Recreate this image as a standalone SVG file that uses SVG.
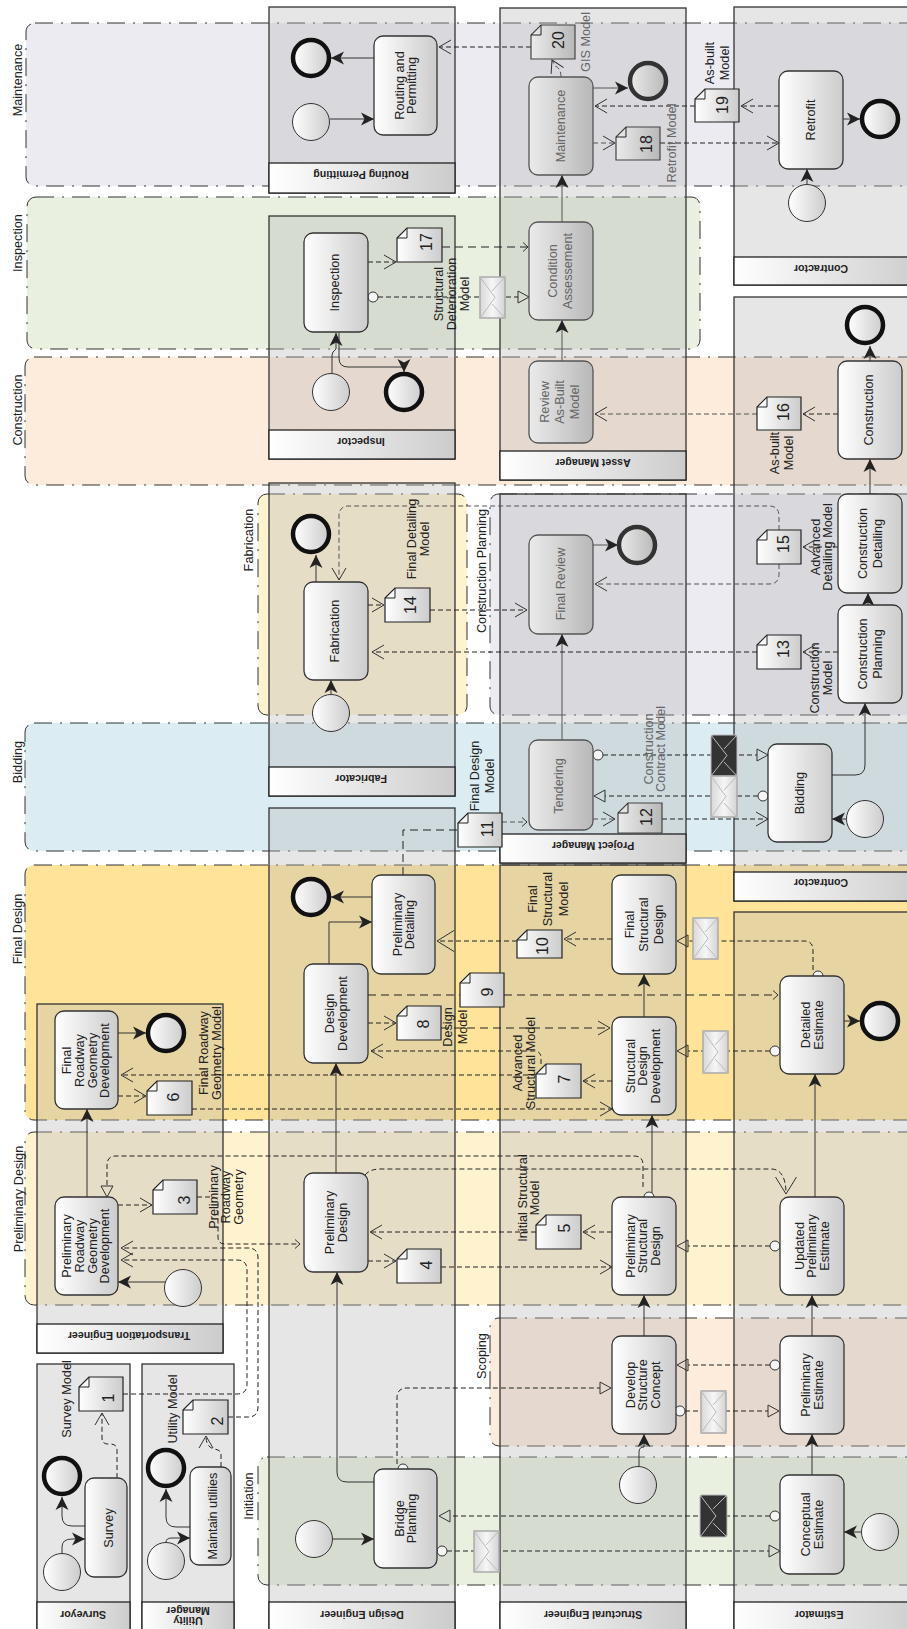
<svg xmlns="http://www.w3.org/2000/svg" width="907" height="1629" viewBox="0 0 907 1629">
<style>
text{font-family:"Liberation Sans",Arial,sans-serif;fill:#222}
.t{font-size:12.7px;text-anchor:middle}
.dt{fill:#666}
.n{font-size:16px;text-anchor:middle}
.h{font-size:10.6px;font-weight:bold;text-anchor:middle}
.band{stroke:#333;stroke-width:1;stroke-dasharray:18 8 2 8}
.pool{fill:#b8b8b8;fill-opacity:.35;stroke:#333;stroke-width:1.3}
.head{fill:url(#g);stroke:#222;stroke-width:1.3}
.task{fill:url(#g);stroke:#333;stroke-width:1.3}
.dtask{fill:url(#gd);stroke:#555;stroke-width:1.3}
.ev{fill:url(#g);stroke:#333;stroke-width:1}
.end{fill:url(#g);stroke:#111;stroke-width:4.5}
.dend{fill:url(#gd);stroke:#333;stroke-width:4.5}
.doc{fill:url(#g);stroke:#222;stroke-width:1.2}
.ddoc{fill:url(#gd);stroke:#444;stroke-width:1.2}
.fold{fill:none;stroke:#222;stroke-width:1}
.env{fill:url(#ge);stroke:#aaa;stroke-width:1.5}
.envd{fill:#333;stroke:#bbb;stroke-width:1}
.el{fill:none;stroke:#bbb;stroke-width:1}
.s,.d,.d2{fill:none;stroke:#222;stroke-width:1}
.s{marker-end:url(#b);stroke:#333}
.d{stroke-dasharray:5 3}
.d2{stroke-dasharray:8 5}
.dm{stroke:#555}
.o{marker-end:url(#o)}
.ob{marker-end:url(#ob)}
.os{marker-end:url(#os)}
.tr{marker-end:url(#tr)}
.c{marker-start:url(#c)}
.oc{fill:#f4f4f4;stroke:#333;stroke-width:1}
</style>
<defs>
<linearGradient id="g"><stop offset="0" stop-color="#fff"/><stop offset="1" stop-color="#ccc"/></linearGradient>
<linearGradient id="gd"><stop offset="0" stop-color="#ebebeb"/><stop offset="1" stop-color="#b8b8b8"/></linearGradient>
<linearGradient id="ge"><stop offset="0" stop-color="#d8d8d8"/><stop offset=".5" stop-color="#f6f6f6"/><stop offset="1" stop-color="#d4d4d4"/></linearGradient>
<marker id="b" markerUnits="userSpaceOnUse" markerWidth="16" markerHeight="16" viewBox="-1 -8 16 16" refX="13" refY="0" orient="auto"><path d="M0 -6.5L13 0L0 6.5L3.5 0z" fill="#222"/></marker>
<marker id="o" markerUnits="userSpaceOnUse" markerWidth="16" markerHeight="18" viewBox="-1 -9 16 18" refX="12" refY="0" orient="auto"><path d="M0 -7L12 0L0 7" fill="none" stroke="#333"/></marker>
<marker id="ob" markerUnits="userSpaceOnUse" markerWidth="20" markerHeight="24" viewBox="-1 -12 20 24" refX="17" refY="0" orient="auto"><path d="M0 -10.5L17 0L0 10.5" fill="none" stroke="#333"/></marker>
<marker id="os" markerUnits="userSpaceOnUse" markerWidth="8" markerHeight="12" viewBox="-1 -6 8 12" refX="5" refY="0" orient="auto"><path d="M0 -4.5L5 0L0 4.5" fill="none" stroke="#333"/></marker>
<marker id="tr" markerUnits="userSpaceOnUse" markerWidth="14" markerHeight="16" viewBox="-1 -8 14 16" refX="0" refY="0" orient="auto"><path d="M0 -6L11 0L0 6z" fill="none" stroke="#333"/></marker>
<marker id="c" markerUnits="userSpaceOnUse" markerWidth="12" markerHeight="12" viewBox="-6 -6 12 12" refX="5" refY="0" orient="auto"><circle r="5" fill="#f4f4f4" stroke="#333"/></marker>
</defs>
<rect width="907" height="1629" fill="#fff"/>

<g id="phases">
<g id="phase-maintenance"><rect class="band" x="26" y="23" width="900" height="163" rx="9" fill="#ecebf2"/><text class="t" transform="translate(18 80) rotate(-90)" y="4.4">Maintenance</text></g>
<g id="phase-inspection"><rect class="band" x="27" y="197" width="673" height="152" rx="9" fill="#e9f0df"/><text class="t" transform="translate(18 243) rotate(-90)" y="4.4">Inspection</text></g>
<g id="phase-construction"><rect class="band" x="25" y="357" width="900" height="128" rx="9" fill="#fdebdc"/><text class="t" transform="translate(18 410) rotate(-90)" y="4.4">Construction</text></g>
<g id="phase-fabrication"><rect class="band" x="258" y="494" width="209" height="221" rx="9" fill="#fff2cf"/><text class="t" transform="translate(249 540) rotate(-90)" y="4.4">Fabrication</text></g>
<g id="phase-planning"><rect class="band" x="490" y="494" width="440" height="221" rx="9" fill="#ecebf2"/><text class="t" transform="translate(482 571) rotate(-90)" y="4.4">Construction Planning</text></g>
<g id="phase-bidding"><rect class="band" x="25" y="723" width="900" height="128" rx="9" fill="#dbedf3"/><text class="t" transform="translate(18 762) rotate(-90)" y="4.4">Bidding</text></g>
<g id="phase-final"><rect class="band" x="25" y="865" width="900" height="255" rx="9" fill="#ffe399"/><text class="t" transform="translate(18 929) rotate(-90)" y="4.4">Final Design</text></g>
<g id="phase-prelim"><rect class="band" x="25" y="1132" width="900" height="173" rx="9" fill="#fff2cf"/><text class="t" transform="translate(19 1199) rotate(-90)" y="4.4">Preliminary Design</text></g>
<g id="phase-scoping"><rect class="band" x="490" y="1318" width="440" height="128" rx="9" fill="#fdebdc"/><text class="t" transform="translate(482 1356) rotate(-90)" y="4.4">Scoping</text></g>
<g id="phase-initiation"><rect class="band" x="258" y="1457" width="670" height="128" rx="9" fill="#e9f0df"/><text class="t" transform="translate(249 1496) rotate(-90)" y="4.4">Initiation</text></g>
</g>

<g id="pools">
<g id="pool-surveyor"><rect class="pool" x="37" y="1364" width="93" height="270"/><rect class="head" x="37" y="1602" width="93" height="32"/><text class="h" transform="translate(83 1615) rotate(180)" y="3.7">Surveyor</text></g>
<g id="pool-utility"><rect class="pool" x="142" y="1364" width="92" height="270"/><rect class="head" x="142" y="1602" width="92" height="32"/><text class="h" transform="translate(188 1616) rotate(180)"><tspan x="0" y="-1.3">Utility</tspan><tspan x="0" y="8.7">Manager</tspan></text></g>
<g id="pool-transport"><rect class="pool" x="37" y="1004" width="186" height="349"/><rect class="head" x="37" y="1324" width="186" height="29"/><text class="h" transform="translate(129 1336) rotate(180)" y="3.7">Transportation Engineer</text></g>
<g id="pool-design"><rect class="pool" x="269" y="808" width="186" height="826"/><rect class="head" x="269" y="1602" width="186" height="32"/><text class="h" transform="translate(362 1615) rotate(180)" y="3.7">Design Engineer</text></g>
<g id="pool-fabricator"><rect class="pool" x="269" y="483" width="186" height="313"/><rect class="head" x="269" y="767" width="186" height="29"/><text class="h" transform="translate(361 779) rotate(180)" y="3.7">Fabricator</text></g>
<g id="pool-inspector"><rect class="pool" x="269" y="216" width="186" height="243"/><rect class="head" x="269" y="430" width="186" height="29"/><text class="h" transform="translate(361 442) rotate(180)" y="3.7">Inspector</text></g>
<g id="pool-routing"><rect class="pool" x="269" y="7" width="186" height="186"/><rect class="head" x="269" y="163" width="186" height="30"/><text class="h" transform="translate(361 175) rotate(180)" y="3.7">Routing Permitting</text></g>
<g id="pool-asset"><rect class="pool" x="500" y="8" width="186" height="472"/><rect class="head" x="500" y="451" width="186" height="29"/><text class="h" transform="translate(593 463) rotate(180)" y="3.7">Asset Manager</text></g>
<g id="pool-project"><rect class="pool" x="500" y="494" width="186" height="369"/><rect class="head" x="500" y="834" width="186" height="29"/><text class="h" transform="translate(593 846) rotate(180)" y="3.7">Project Manager</text></g>
<g id="pool-structural"><rect class="pool" x="500" y="865" width="186" height="769"/><rect class="head" x="500" y="1602" width="186" height="32"/><text class="h" transform="translate(593 1615) rotate(180)" y="3.7">Structural Engineer</text></g>
<g id="pool-contractor1"><rect class="pool" x="734" y="7" width="190" height="278"/><rect class="head" x="734" y="257" width="190" height="28"/><text class="h" transform="translate(821 269) rotate(180)" y="3.7">Contractor</text></g>
<g id="pool-contractor2"><rect class="pool" x="734" y="297" width="190" height="604"/><rect class="head" x="734" y="872" width="190" height="29"/><text class="h" transform="translate(821 883) rotate(180)" y="3.7">Contractor</text></g>
<g id="pool-estimator"><rect class="pool" x="734" y="912" width="190" height="722"/><rect class="head" x="734" y="1602" width="190" height="32"/><text class="h" transform="translate(819 1615) rotate(180)" y="3.7">Estimator</text></g>
</g>

<g id="connectors">
<path class="s" d="M62 1553V1547Q62 1539 72 1539H85"/>
<path class="s" d="M85 1526H72Q62 1526 62 1516V1497"/>
<path class="s" d="M166 1542Q166 1538 172 1538H190"/>
<path class="s" d="M190 1527H176Q166 1527 166 1517V1489"/>
<path class="d o" d="M117 1478V1450Q117 1444 110 1444H108Q102 1444 102 1438V1413"/>
<path class="d o" d="M221 1467V1454Q221 1450 214 1449Q206 1447 206 1436"/>
<path class="d o" d="M123 1394H237Q247 1394 247 1384V1270Q247 1260 237 1260H121"/>
<path class="d o" d="M228 1417H248Q258 1417 258 1407V1258Q258 1248 248 1248H121"/>
<path class="s" d="M165 1282H118"/>
<path class="s" d="M87 1197V1109"/>
<path class="s" d="M118 1033H146"/>
<path class="d o" d="M118 1096H146"/>
<path class="d o" d="M536 1075H121"/>
<path class="d o" d="M192 1109H612"/>
<path class="d o" d="M612 1081H583"/>
<path class="d o" d="M541 1064V1058Q541 1051 534 1051H371"/>
<path class="d o" d="M118 1205H152"/>
<path class="d os" d="M197 1197H212Q218 1197 218 1203V1237Q218 1244 225 1244H300"/>
<path class="d tr" d="M643 1187V1165Q643 1156 634 1156H116Q107 1156 107 1165V1186"/>
<path class="d ob" d="M365 1175Q370 1169 380 1169H772Q786 1170 786 1194"/>
<path class="d o" d="M536 1232H370"/>
<path class="d o" d="M612 1232H583"/>
<path class="d o" d="M368 1261H396"/>
<path class="d o" d="M441 1267H612"/>
<path class="d tr c" d="M770 1246H688"/>
<path class="s" d="M652 1197V1115"/>
<path class="s" d="M644 1017V974"/>
<path class="s" d="M815 1197V1074"/>
<path class="s" d="M644 1336V1295"/>
<path class="s" d="M812 1336V1295"/>
<path class="s" d="M812 1475V1434"/>
<path class="s" d="M639 1466V1452Q639 1447 644 1447V1434"/>
<path class="s" d="M861 1532H844"/>
<path class="s" d="M333 1539H374"/>
<path class="s" d="M374 1482H347Q337 1482 337 1472V1272"/>
<path class="s" d="M336 1173V1063"/>
<path class="s" d="M329 964V922H372"/>
<path class="s" d="M372 897H331"/>
<path class="d2" d="M403 875V830H458"/>
<path class="d os dm" d="M502 822H527"/>
<path class="d ob" d="M517 941H437"/>
<path class="d o" d="M612 939H564"/>
<path class="d o" d="M368 1023H396"/>
<path class="d2 o" d="M441 1028H610"/>
<path class="d2" d="M368 995H460"/>
<path class="d2 os" d="M504 995H778"/>
<path class="d tr" d="M813 970V950Q813 941 804 941H688"/>
<path class="d tr c" d="M770 1051H688"/>
<path class="s" d="M844 1021H860"/>
<path class="d tr" d="M397 1464V1398Q397 1388 407 1388H600"/>
<path class="d tr c" d="M447 1551H769"/>
<path class="d tr c" d="M770 1516H450"/>
<path class="d tr c" d="M685 1411H768"/>
<path class="d tr c" d="M770 1365H688"/>
<path class="d tr c" d="M603 755H757"/>
<path class="d tr c" d="M758 796H605"/>
<path class="d o dm" d="M593 819H615"/>
<path class="d o" d="M662 819H768"/>
<path class="s" d="M846 819H832"/>
<path class="s" d="M832 775H855Q865 775 865 765V703"/>
<path class="s dm" d="M562 740V634"/>
<path class="d o" d="M838 652H803"/>
<path class="d o" d="M757 652H372"/>
<path class="s" d="M868 605V593"/>
<path class="s" d="M870 494V459"/>
<path class="s" d="M870 361V346"/>
<path class="d o" d="M838 414H803"/>
<path class="d o dm" d="M757 414H595"/>
<path class="d o" d="M838 547H803"/>
<path class="d o dm" d="M779 530V516Q779 506 769 506H349Q339 506 339 516V580"/>
<path class="d o dm" d="M779 564V574Q779 584 769 584H595"/>
<path class="s dm" d="M590 545H618"/>
<path class="d o" d="M368 605H384"/>
<path class="d o" d="M430 610H527"/>
<path class="s" d="M331 694V680"/>
<path class="s" d="M316 582V555"/>
<path class="s dm" d="M562 361V320"/>
<path class="s dm" d="M562 222V175"/>
<path class="s" d="M332 373V355Q332 352 336 349V333"/>
<path class="s" d="M339 333V358Q339 367 348 367H404V372"/>
<path class="d o" d="M368 262H396"/>
<path class="d2 os" d="M442 247H528"/>
<path class="d tr c" d="M378 297H518"/>
<path class="d o dm" d="M561 77Q561 68 555 66L552 60"/>
<path class="d o" d="M531 47H439"/>
<path class="s" d="M374 58H331"/>
<path class="s" d="M330 119H374"/>
<path class="s dm" d="M593 88H628"/>
<path class="d o" d="M695 106H595"/>
<path class="d o" d="M779 106H741"/>
<path class="d o dm" d="M593 143H615"/>
<path class="d o" d="M660 143H779"/>
<path class="s" d="M807 184V169"/>
<path class="s" d="M843 119H860"/>
<circle class="oc" cx="403" cy="1469" r="5"/>
<circle class="oc" cx="649" cy="1197" r="5"/>
<circle class="oc" cx="818" cy="976" r="5"/>
</g>

<g id="nodes">
<g id="t-survey"><rect class="task" x="85" y="1478" width="42" height="99" rx="9"/><text class="t" transform="translate(109 1528) rotate(-90)" y="4.4">Survey</text></g>
<g id="t-utilities"><rect class="task" x="190" y="1467" width="41" height="98" rx="9"/><text class="t" transform="translate(213 1516) rotate(-90)" y="4.4">Maintain utiliies</text></g>
<g id="t-bridge"><rect class="task" x="374" y="1469" width="63" height="99" rx="9"/><text class="t" transform="translate(405.5 1518.5) rotate(-90)"><tspan x="0" y="-2">Bridge</tspan><tspan x="0" y="10.7">Planning</tspan></text></g>
<g id="t-develop"><rect class="task" x="612" y="1336" width="64" height="98" rx="9"/><text class="t" transform="translate(643 1385) rotate(-90)"><tspan x="0" y="-8.3">Develop</tspan><tspan x="0" y="4.4">Structure</tspan><tspan x="0" y="17.1">Concept</tspan></text></g>
<g id="t-prelimest"><rect class="task" x="780" y="1336" width="64" height="98" rx="9"/><text class="t" transform="translate(812 1385) rotate(-90)"><tspan x="0" y="-2">Preliminary</tspan><tspan x="0" y="10.7">Estimate</tspan></text></g>
<g id="t-concept"><rect class="task" x="780" y="1475" width="64" height="99" rx="9"/><text class="t" transform="translate(812 1524.5) rotate(-90)"><tspan x="0" y="-2">Conceptual</tspan><tspan x="0" y="10.7">Estimate</tspan></text></g>
<g id="t-prgd"><rect class="task" x="55" y="1197" width="63" height="98" rx="9"/><text class="t" transform="translate(86 1246) rotate(-90)"><tspan x="0" y="-14.65">Preliminary</tspan><tspan x="0" y="-1.95">Roadway</tspan><tspan x="0" y="10.75">Geometry</tspan><tspan x="0" y="23.45">Development</tspan></text></g>
<g id="t-frgd"><rect class="task" x="55" y="1011" width="63" height="98" rx="9"/><text class="t" transform="translate(86 1060.5) rotate(-90)"><tspan x="0" y="-14.65">Final</tspan><tspan x="0" y="-1.95">Roadway</tspan><tspan x="0" y="10.75">Geometry</tspan><tspan x="0" y="23.45">Development</tspan></text></g>
<g id="t-prelimdesign"><rect class="task" x="304" y="1173" width="64" height="99" rx="9"/><text class="t" transform="translate(336 1222.5) rotate(-90)"><tspan x="0" y="-2">Preliminary</tspan><tspan x="0" y="10.7">Design</tspan></text></g>
<g id="t-designdev"><rect class="task" x="304" y="964" width="64" height="99" rx="9"/><text class="t" transform="translate(336 1013.5) rotate(-90)"><tspan x="0" y="-2">Design</tspan><tspan x="0" y="10.7">Development</tspan></text></g>
<g id="t-prelimdetail"><rect class="task" x="372" y="875" width="63" height="99" rx="9"/><text class="t" transform="translate(403.5 924.5) rotate(-90)"><tspan x="0" y="-2">Preliminary</tspan><tspan x="0" y="10.7">Detailing</tspan></text></g>
<g id="t-psd"><rect class="task" x="612" y="1197" width="64" height="98" rx="9"/><text class="t" transform="translate(643 1246) rotate(-90)"><tspan x="0" y="-8.3">Preliminary</tspan><tspan x="0" y="4.4">Structural</tspan><tspan x="0" y="17.1">Design</tspan></text></g>
<g id="t-sdd"><rect class="task" x="612" y="1017" width="64" height="98" rx="9"/><text class="t" transform="translate(643 1066) rotate(-90)"><tspan x="0" y="-8.3">Structural</tspan><tspan x="0" y="4.4">Design</tspan><tspan x="0" y="17.1">Development</tspan></text></g>
<g id="t-fsd"><rect class="task" x="612" y="875" width="64" height="99" rx="9"/><text class="t" transform="translate(644 924.5) rotate(-90)"><tspan x="0" y="-10.5">Final</tspan><tspan x="0" y="4.4">Structural</tspan><tspan x="0" y="19.3">Design</tspan></text></g>
<g id="t-updated"><rect class="task" x="780" y="1197" width="64" height="98" rx="9"/><text class="t" transform="translate(812 1246) rotate(-90)"><tspan x="0" y="-8.3">Updated</tspan><tspan x="0" y="4.4">Preliminary</tspan><tspan x="0" y="17.1">Estimate</tspan></text></g>
<g id="t-detailed"><rect class="task" x="780" y="976" width="64" height="98" rx="9"/><text class="t" transform="translate(812 1025) rotate(-90)"><tspan x="0" y="-2">Detailed</tspan><tspan x="0" y="10.7">Estimate</tspan></text></g>
<g id="t-bidding"><rect class="task" x="768" y="744" width="64" height="98" rx="9"/><text class="t" transform="translate(800 793) rotate(-90)" y="4.4">Bidding</text></g>
<g id="t-tendering"><rect class="dtask" x="529" y="740" width="64" height="90" rx="9"/><text class="t dt" transform="translate(559 786) rotate(-90)" y="4.4">Tendering</text></g>
<g id="t-finalreview"><rect class="dtask" x="529" y="535" width="64" height="99" rx="9"/><text class="t dt" transform="translate(561 584) rotate(-90)" y="4.4">Final Review</text></g>
<g id="t-fabrication"><rect class="task" x="304" y="582" width="64" height="98" rx="9"/><text class="t" transform="translate(335 631) rotate(-90)" y="4.4">Fabrication</text></g>
<g id="t-cplanning"><rect class="task" x="838" y="605" width="64" height="98" rx="9"/><text class="t" transform="translate(870 654) rotate(-90)"><tspan x="0" y="-3.1">Construction</tspan><tspan x="0" y="11.9">Planning</tspan></text></g>
<g id="t-cdetailing"><rect class="task" x="838" y="494" width="64" height="99" rx="9"/><text class="t" transform="translate(870 543.5) rotate(-90)"><tspan x="0" y="-3.1">Construction</tspan><tspan x="0" y="11.9">Detailing</tspan></text></g>
<g id="t-construction"><rect class="task" x="838" y="361" width="64" height="98" rx="9"/><text class="t" transform="translate(869 410) rotate(-90)" y="4.4">Construction</text></g>
<g id="t-review"><rect class="dtask" x="529" y="361" width="64" height="82" rx="9"/><text class="t dt" transform="translate(560 402) rotate(-90)"><tspan x="0" y="-10.6">Review</tspan><tspan x="0" y="4.4">As-Built</tspan><tspan x="0" y="19.4">Model</tspan></text></g>
<g id="t-condition"><rect class="dtask" x="529" y="222" width="64" height="98" rx="9"/><text class="t dt" transform="translate(560 271) rotate(-90)"><tspan x="0" y="-3.1">Condition</tspan><tspan x="0" y="11.9">Assessement</tspan></text></g>
<g id="t-maintenance"><rect class="dtask" x="529" y="77" width="64" height="98" rx="9"/><text class="t dt" transform="translate(561 126) rotate(-90)" y="4.4">Maintenance</text></g>
<g id="t-routing"><rect class="task" x="374" y="36" width="63" height="99" rx="9"/><text class="t" transform="translate(405.5 85.5) rotate(-90)"><tspan x="0" y="-2">Routing and</tspan><tspan x="0" y="10.7">Permitting</tspan></text></g>
<g id="t-inspection"><rect class="task" x="304" y="233" width="64" height="99" rx="9"/><text class="t" transform="translate(335 282.5) rotate(-90)" y="4.4">Inspection</text></g>
<g id="t-retrofit"><rect class="task" x="779" y="71" width="64" height="98" rx="9"/><text class="t" transform="translate(811 120) rotate(-90)" y="4.4">Retrofit</text></g>

<g id="start-events">
<circle id="s-survey" class="ev" cx="62" cy="1572" r="18.5"/>
<circle id="s-utility" class="ev" cx="166" cy="1561" r="18.5"/>
<circle id="s-bridge" class="ev" cx="314" cy="1539" r="18.5"/>
<circle id="s-structure" class="ev" cx="638" cy="1485" r="18.5"/>
<circle id="s-conceptual" class="ev" cx="880" cy="1532" r="18.5"/>
<circle id="s-roadway" class="ev" cx="183" cy="1288" r="18.5"/>
<circle id="s-bidding" class="ev" cx="865" cy="819" r="18.5"/>
<circle id="s-fabrication" class="ev" cx="331" cy="713" r="18.5"/>
<circle id="s-inspection" class="ev" cx="331" cy="392" r="18.5"/>
<circle id="s-routing" class="ev" cx="311" cy="122" r="18.5"/>
<circle id="s-retrofit" class="ev" cx="807" cy="203" r="18.5"/>
</g>
<g id="end-events">
<circle id="e-survey" class="end" cx="62" cy="1476" r="18"/>
<circle id="e-utility" class="end" cx="166" cy="1468" r="18"/>
<circle id="e-roadway" class="end" cx="166" cy="1033" r="18"/>
<circle id="e-detailing" class="end" cx="311" cy="897" r="18"/>
<circle id="e-estimate" class="end" cx="880" cy="1021" r="18"/>
<circle id="e-fabrication" class="end" cx="311" cy="534" r="18"/>
<circle id="e-inspection" class="end" cx="404" cy="392" r="18"/>
<circle id="e-finalreview" class="dend" cx="637" cy="545" r="18"/>
<circle id="e-construction" class="end" cx="865" cy="325" r="18"/>
<circle id="e-routing" class="end" cx="311" cy="58" r="18"/>
<circle id="e-maintenance" class="dend" cx="648" cy="81" r="18"/>
<circle id="e-retrofit" class="end" cx="880" cy="119" r="18"/>
</g>

<g id="doc1"><path class="doc" d="M89 1377H123V1411H79V1387z"/><path class="fold" d="M79 1387H89V1377"/><text class="n" transform="translate(108 1398) rotate(-90)" y="5.5">1</text><text class="t" transform="translate(67 1399) rotate(-90)" y="4.4">Survey Model</text></g>
<g id="doc2"><path class="doc" d="M193 1400H228V1434H183V1410z"/><path class="fold" d="M183 1410H193V1400"/><text class="n" transform="translate(217 1421) rotate(-90)" y="5.5">2</text><text class="t" transform="translate(173 1409) rotate(-90)" y="4.4">Utility Model</text></g>
<g id="doc3"><path class="doc" d="M163 1180H197V1214H153V1190z"/><path class="fold" d="M153 1190H163V1180"/><text class="n" transform="translate(184 1200) rotate(-90)" y="5.5">3</text><text class="t" transform="translate(226 1197) rotate(-90)"><tspan x="0" y="-8.3">Preliminary</tspan><tspan x="0" y="4.4">Roadway</tspan><tspan x="0" y="17.1">Geometry</tspan></text></g>
<g id="doc4"><path class="doc" d="M407 1249H441V1283H397V1259z"/><path class="fold" d="M397 1259H407V1249"/><text class="n" transform="translate(426 1265) rotate(-90)" y="5.5">4</text></g>
<g id="doc5"><path class="doc" d="M546 1215H581V1249H536V1225z"/><path class="fold" d="M536 1225H546V1215"/><text class="n" transform="translate(564 1228) rotate(-90)" y="5.5">5</text><text class="t" transform="translate(528.5 1198) rotate(-90)"><tspan x="0" y="-2">Initial Structural</tspan><tspan x="0" y="10.7">Model</tspan></text></g>
<g id="doc6"><path class="doc" d="M157 1081H192V1115H147V1091z"/><path class="fold" d="M147 1091H157V1081"/><text class="n" transform="translate(173 1097) rotate(-90)" y="5.5">6</text><text class="t" transform="translate(210 1053) rotate(-90)"><tspan x="0" y="-2.5">Final Roadway</tspan><tspan x="0" y="11">Geometry Model</tspan></text></g>
<g id="doc7"><path class="doc" d="M546 1064H581V1098H536V1074z"/><path class="fold" d="M536 1074H546V1064"/><text class="n" transform="translate(564 1079) rotate(-90)" y="5.5">7</text><text class="t" transform="translate(524 1063) rotate(-90)"><tspan x="0" y="-2">Advanced</tspan><tspan x="0" y="10.7">Structural Model</tspan></text></g>
<g id="doc8"><path class="doc" d="M407 1006H441V1040H397V1016z"/><path class="fold" d="M397 1016H407V1006"/><text class="n" transform="translate(423 1024) rotate(-90)" y="5.5">8</text><text class="t" transform="translate(455.5 1027) rotate(-90)"><tspan x="0" y="-3.1">Design</tspan><tspan x="0" y="11.9">Model</tspan></text></g>
<g id="doc9"><path class="doc" d="M470 973H504V1007H460V983z"/><path class="fold" d="M460 983H470V973"/><text class="n" transform="translate(487 992) rotate(-90)" y="5.5">9</text></g>
<g id="doc10"><path class="doc" d="M527 930H562V958H517V940z"/><path class="fold" d="M517 940H527V930"/><text class="n" transform="translate(542 946) rotate(-90)" y="5.5">10</text><text class="t" transform="translate(548 899) rotate(-90)"><tspan x="0" y="-10.8">Final</tspan><tspan x="0" y="4.4">Structural</tspan><tspan x="0" y="19.6">Model</tspan></text></g>
<g id="doc11"><path class="doc" d="M468 813H502V847H458V823z"/><path class="fold" d="M458 823H468V813"/><text class="n" transform="translate(487 829) rotate(-90)" y="5.5">11</text><text class="t" transform="translate(482.5 776) rotate(-90)"><tspan x="0" y="-3.1">Final Design</tspan><tspan x="0" y="11.9">Model</tspan></text></g>
<g id="doc12"><path class="ddoc" d="M628 803H662V833H618V813z"/><path class="fold" d="M618 813H628V803"/><text class="n" transform="translate(646 817) rotate(-90)" y="5.5">12</text><text class="t dt" transform="translate(654.5 749) rotate(-90)"><tspan x="0" y="-2">Construction</tspan><tspan x="0" y="10.7">Contract Model</tspan></text></g>
<g id="doc13"><path class="doc" d="M767 635H801V669H757V645z"/><path class="fold" d="M757 645H767V635"/><text class="n" transform="translate(783 649) rotate(-90)" y="5.5">13</text><text class="t" transform="translate(821 678) rotate(-90)"><tspan x="0" y="-2">Construction</tspan><tspan x="0" y="10.7">Model</tspan></text></g>
<g id="doc14"><path class="doc" d="M395 588H430V622H385V598z"/><path class="fold" d="M385 598H395V588"/><text class="n" transform="translate(410 605) rotate(-90)" y="5.5">14</text><text class="t" transform="translate(418 539) rotate(-90)"><tspan x="0" y="-2">Final Detailing</tspan><tspan x="0" y="10.7">Model</tspan></text></g>
<g id="doc15"><path class="doc" d="M767 530H801V564H757V540z"/><path class="fold" d="M757 540H767V530"/><text class="n" transform="translate(783 544) rotate(-90)" y="5.5">15</text><text class="t" transform="translate(821.5 547) rotate(-90)"><tspan x="0" y="-2">Advanced</tspan><tspan x="0" y="10.7">Detailing Model</tspan></text></g>
<g id="doc16"><path class="doc" d="M767 397H801V430H757V407z"/><path class="fold" d="M757 407H767V397"/><text class="n" transform="translate(783 412) rotate(-90)" y="5.5">16</text><text class="t" transform="translate(782 453) rotate(-90)"><tspan x="0" y="-2.6">As-built</tspan><tspan x="0" y="11.4">Model</tspan></text></g>
<g id="doc17"><path class="doc" d="M407 228H442V262H397V238z"/><path class="fold" d="M397 238H407V228"/><text class="n" transform="translate(426 242) rotate(-90)" y="5.5">17</text><text class="t" transform="translate(452 294) rotate(-90)"><tspan x="0" y="-8.6">Structural</tspan><tspan x="0" y="4.4">Deterioration</tspan><tspan x="0" y="17.4">Model</tspan></text></g>
<g id="doc18"><path class="ddoc" d="M626 127H660V160H616V137z"/><path class="fold" d="M616 137H626V127"/><text class="n" transform="translate(646 144) rotate(-90)" y="5.5">18</text><text class="t dt" transform="translate(672 143) rotate(-90)" y="4.4">Retrofit Model</text></g>
<g id="doc19"><path class="doc" d="M705 89H739V122H695V99z"/><path class="fold" d="M695 99H705V89"/><text class="n" transform="translate(722 105) rotate(-90)" y="5.5">19</text><text class="t" transform="translate(717.5 63) rotate(-90)"><tspan x="0" y="-3.1">As-built</tspan><tspan x="0" y="11.9">Model</tspan></text></g>
<g id="doc20"><path class="ddoc" d="M541 25H575V59H531V35z"/><path class="fold" d="M531 35H541V25"/><text class="n" transform="translate(558 40) rotate(-90)" y="5.5">20</text><text class="t dt" transform="translate(586 42) rotate(-90)" y="4.4">GIS Model</text></g>

<g id="msg1"><rect class="env" x="474" y="1531" width="25" height="41"/><path class="el" d="M474 1531L489 1551.5L474 1572M499 1531L486 1545M499 1572L486 1558"/></g>
<g id="msg2"><rect class="envd" x="700" y="1495" width="27" height="42" rx="2"/><path class="el" d="M700 1495L716 1516L700 1537M727 1495L713 1509M727 1537L713 1523"/></g>
<g id="msg3"><rect class="env" x="701" y="1391" width="25" height="42"/><path class="el" d="M701 1391L716 1412L701 1433M726 1391L713 1405M726 1433L713 1419"/></g>
<g id="msg4"><rect class="env" x="703" y="1031" width="25" height="42"/><path class="el" d="M703 1031L718 1052L703 1073M728 1031L715 1045M728 1073L715 1059"/></g>
<g id="msg5"><rect class="env" x="693" y="918" width="25" height="41"/><path class="el" d="M693 918L708 938.5L693 959M718 918L705 932M718 959L705 945"/></g>
<g id="msg6"><rect class="envd" x="711" y="735" width="26" height="41" rx="2"/><path class="el" d="M711 735L727 755.5L711 776M737 735L724 749M737 776L724 762"/></g>
<g id="msg7"><rect class="env" x="711" y="776" width="26" height="41"/><path class="el" d="M711 776L726 796.5L711 817M737 776L724 790M737 817L724 803"/></g>
<g id="msg8"><rect class="env" x="480" y="277" width="25" height="41"/><path class="el" d="M480 277L495 297.5L480 318M505 277L492 291M505 318L492 304"/></g>
</g>
</svg>
